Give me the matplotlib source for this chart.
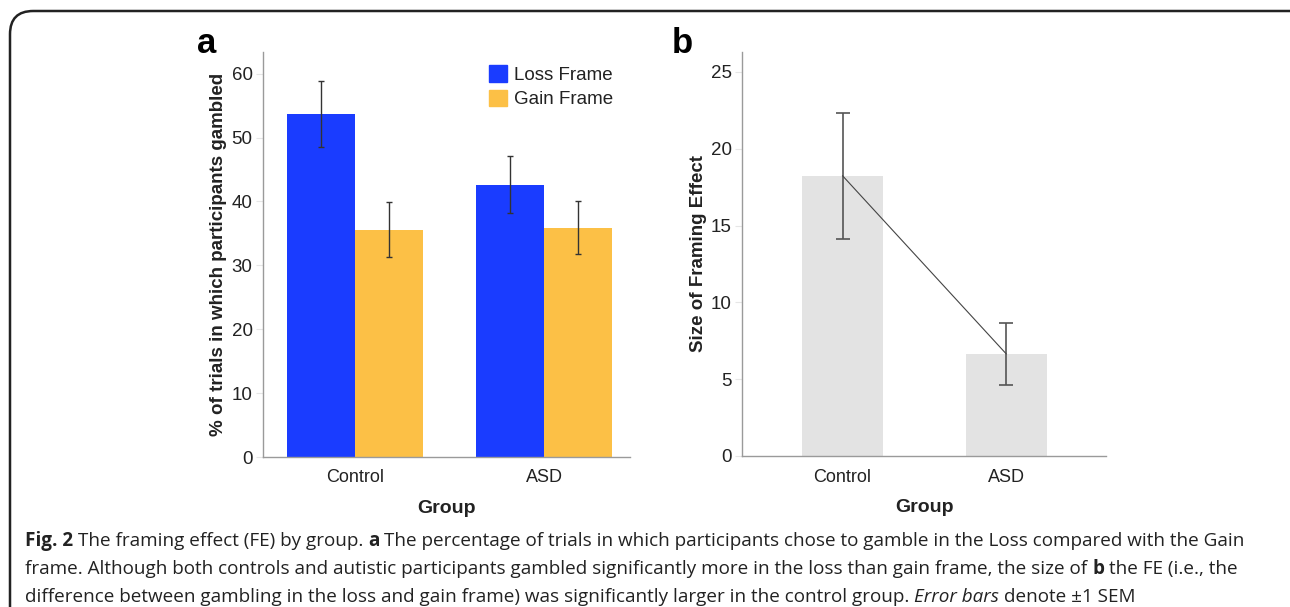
import numpy as np
import matplotlib
matplotlib.use('Agg')
import matplotlib.pyplot as plt
from matplotlib.patches import FancyBboxPatch, Patch

# data
groups = ['Control', 'ASD']
loss_frame = [53.7, 42.6]
loss_sem = [5.1, 4.45]
gain_frame = [35.6, 35.9]
gain_sem = [4.3, 4.15]
fe_size = [18.24, 6.65]
fe_sem = [4.1, 2.0]
ticks_a = [0, 10, 20, 30, 40, 50, 60]
ticks_b = [0, 5, 10, 15, 20, 25]

BLUE = '#1a3cff'
ORANGE = '#fcc046'
GREY_BAR = '#e3e3e3'
TXT = '#222222'

plt.rcParams['font.family'] = ['Liberation Sans', 'DejaVu Sans']

W, H = 1290, 607
fig = plt.figure(figsize=(W / 100, H / 100), dpi=100)


def px_axes(l, t, r, b):
    # pixel box (from top-left) -> figure fraction
    return fig.add_axes([l / W, 1 - b / H, (r - l) / W, (b - t) / H])


def style(ax):
    for s in ['top', 'right']:
        ax.spines[s].set_visible(False)
    for s in ['left', 'bottom']:
        ax.spines[s].set_color('#9a9a9a')
        ax.spines[s].set_linewidth(1.0)
    ax.tick_params(axis='y', length=5, color='#e6e6e6', labelsize=13.5,
                   labelcolor=TXT, pad=2.5)
    ax.tick_params(axis='x', length=0, labelsize=13, labelcolor=TXT, pad=9)


# ---- panel a ----
ax1 = px_axes(263, 52, 630, 457)
x = np.arange(len(groups))
bw = 0.36
ax1.bar(x - bw / 2, loss_frame, bw, color=BLUE, label='Loss Frame')
ax1.bar(x + bw / 2, gain_frame, bw, color=ORANGE, label='Gain Frame')
ax1.errorbar(x - bw / 2, loss_frame, yerr=loss_sem, fmt='none', ecolor='#333333',
             elinewidth=1, capsize=2.2, capthick=1)
ax1.errorbar(x + bw / 2, gain_frame, yerr=gain_sem, fmt='none', ecolor='#333333',
             elinewidth=1, capsize=2.2, capthick=1)
ax1.set_xlim(-0.487, 1.455)
ax1.set_ylim(0, 63.4)
ax1.set_yticks(ticks_a)
ax1.set_xticks(x)
ax1.set_xticklabels(groups)
style(ax1)
ax1.set_xlabel('Group', fontsize=14, fontweight='bold', color=TXT, labelpad=10)
ax1.set_ylabel('% of trials in which participants gambled', fontsize=13.5,
               fontweight='bold', color=TXT)
ax1.yaxis.set_label_coords(-0.097, 0.5)
handles = [Patch(color=BLUE), Patch(color=ORANGE)]
ax1.legend(handles, ['Loss Frame', 'Gain Frame'], loc='upper left',
           bbox_to_anchor=(0.59, 0.99), frameon=False, fontsize=13.5,
           handlelength=0.95, handleheight=0.95, handletextpad=0.4,
           labelspacing=0.3, borderpad=0, labelcolor=TXT)
fig.text(197 / W, 1 - 53 / H, 'a', fontsize=25, fontweight='bold', color='black')

# ---- panel b ----
ax2 = px_axes(742, 52, 1106, 456)
xb = np.arange(len(groups))
ax2.bar(xb, fe_size, 0.495, color=GREY_BAR)
ax2.errorbar(xb, fe_size, yerr=fe_sem, fmt='none', ecolor='#555555',
             elinewidth=1.2, capsize=5, capthick=1.2)
ax2.plot(xb, fe_size, color='#444444', lw=0.8)
ax2.set_xlim(-0.615, 1.61)
ax2.set_ylim(0, 26.3)
ax2.set_yticks(ticks_b)
ax2.set_xticks(xb)
ax2.set_xticklabels(groups)
style(ax2)
ax2.set_xlabel('Group', fontsize=14, fontweight='bold', color=TXT, labelpad=10)
ax2.set_ylabel('Size of Framing Effect', fontsize=13.5, fontweight='bold',
               color=TXT)
ax2.yaxis.set_label_coords(-0.097, 0.5)
fig.text(672 / W, 1 - 53 / H, 'b', fontsize=25, fontweight='bold', color='black')

# ---- rounded frame ----
frame = FancyBboxPatch((10 / W, -0.1), 1.2, 1 - 11 / H + 0.1,
                       boxstyle='round,pad=0,rounding_size=0.018',
                       transform=fig.transFigure, fill=False,
                       ec='#222222', lw=1.8, mutation_aspect=W / H)
fig.patches.append(frame)

# ---- caption with mixed styles ----
cap_font = ['Open Sans', 'DejaVu Sans']
cap_size = 13.6
lines = [
    [('Fig. 2', 'bold', 'normal'), (' The framing effect (FE) by group. ', 'normal', 'normal'),
     ('a', 'bold', 'normal'),
     (' The percentage of trials in which participants chose to gamble in the Loss compared with the Gain', 'normal', 'normal')],
    [('frame. Although both controls and autistic participants gambled significantly more in the loss than gain frame, the size of ', 'normal', 'normal'),
     ('b', 'bold', 'normal'), (' the FE (i.e., the', 'normal', 'normal')],
    [('difference between gambling in the loss and gain frame) was significantly larger in the control group. ', 'normal', 'normal'),
     ('Error bars', 'normal', 'italic'), (' denote \u00b11 SEM', 'normal', 'normal')],
]
baselines = [546, 574, 602]

renderer = fig.canvas.get_renderer()


def text_w(s, weight, st):
    t = fig.text(0, 0, s, family=cap_font, fontsize=cap_size, weight=weight, style=st)
    w = t.get_window_extent(renderer).width
    t.remove()
    return w


space_w = text_w('x x', 'normal', 'normal') - text_w('xx', 'normal', 'normal')

for runs, base in zip(lines, baselines):
    xp = 25.0
    for s, weight, st in runs:
        lead = len(s) - len(s.lstrip(' '))
        trail = len(s) - len(s.rstrip(' '))
        core = s.strip(' ')
        xp += lead * space_w
        fig.text(xp / W, 1 - base / H, core, family=cap_font, fontsize=cap_size,
                 weight=weight, style=st, color=TXT, va='baseline')
        xp += text_w(core, weight, st) + trail * space_w

fig.savefig('out.png', dpi=100)
